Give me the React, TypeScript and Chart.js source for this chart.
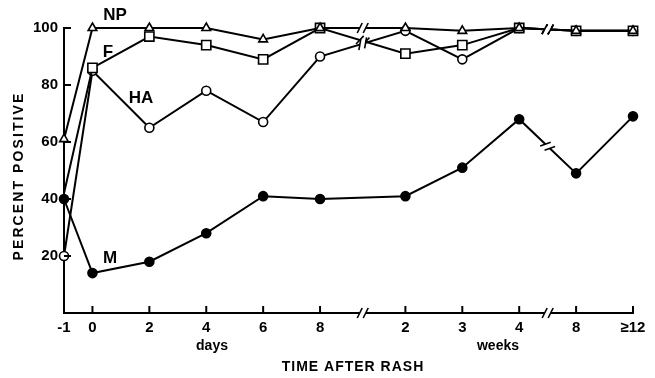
import React, { useEffect, useRef } from 'react';
import { Chart, registerables } from 'chart.js';

Chart.register(...registerables);

// ---- data ----
const xPositions = [-1, 0, 2, 4, 6, 8, 11, 13, 15, 17, 19];
const xTickLabels = ['-1', '0', '2', '4', '6', '8', '2', '3', '4', '8', '≥12'];
const yTickValues = [20, 40, 60, 80, 100];
const npValues = [61, 100, 100, 100, 96, 100, 100, 99, 100, 99, 99];
const fValues = [42, 86, 97, 94, 89, 100, 91, 94, 100, 99, 99];
const haValues = [20, 85, 65, 78, 67, 90, 99, 89, 100, 99, 99];
const mValues = [40, 14, 18, 28, 41, 40, 41, 51, 68, 49, 69];
const axisBreaks = [9.5, 16];
const seriesBreaks: Record<string, number[]> = {
  NP: [9.5, 16],
  F: [9.5, 16],
  HA: [9.5, 16],
  M: [16],
};

const FONT = '"Liberation Sans", Arial, sans-serif';

function toPoints(vals: number[]) {
  return vals.map((v, i) => ({ x: xPositions[i], y: v }));
}

function drawBreak(ctx: CanvasRenderingContext2D, x: number, y: number, ang: number) {
  ctx.save();
  ctx.translate(x, y);
  ctx.rotate(ang);
  ctx.fillStyle = '#fff';
  ctx.fillRect(-3, -2.5, 6, 5);
  ctx.strokeStyle = '#000';
  ctx.lineWidth = 1.6;
  [-3, 3].forEach((dx) => {
    ctx.beginPath();
    ctx.moveTo(dx - 2.5, 5);
    ctx.lineTo(dx + 2.5, -5);
    ctx.stroke();
  });
  ctx.restore();
}

const decorPlugin = {
  id: 'decor',
  afterDatasetsDraw(chart: any) {
    const ctx: CanvasRenderingContext2D = chart.ctx;
    const xs = chart.scales.x;
    const ys = chart.scales.y;
    const { left, bottom } = chart.chartArea;
    ctx.save();
    ctx.strokeStyle = '#000';
    ctx.lineWidth = 2;
    // inward ticks
    yTickValues.forEach((v) => {
      const py = ys.getPixelForValue(v);
      ctx.beginPath();
      ctx.moveTo(left, py);
      ctx.lineTo(left + 7, py);
      ctx.stroke();
    });
    xPositions.forEach((v) => {
      const px = xs.getPixelForValue(v);
      ctx.beginPath();
      ctx.moveTo(px, bottom);
      ctx.lineTo(px, bottom - 7);
      ctx.stroke();
    });
    // axis breaks
    axisBreaks.forEach((b) => drawBreak(ctx, xs.getPixelForValue(b), bottom, 0));
    // series breaks
    chart.data.datasets.forEach((ds: any, i: number) => {
      const meta = chart.getDatasetMeta(i);
      const brks = seriesBreaks[ds.label] || [];
      brks.forEach((b) => {
        const k = ds.data.findIndex((p: any) => p.x > b);
        if (k <= 0) return;
        const a = meta.data[k - 1];
        const c = meta.data[k];
        const px = xs.getPixelForValue(b);
        const t = (px - a.x) / (c.x - a.x);
        const py = a.y + t * (c.y - a.y);
        const ang = Math.atan2(c.y - a.y, c.x - a.x);
        drawBreak(ctx, px, py, ang);
      });
    });
    // texts
    ctx.fillStyle = '#000';
    ctx.textAlign = 'center';
    ctx.textBaseline = 'middle';
    ctx.font = `bold 17px ${FONT}`;
    ctx.fillText('NP', 115, 15);
    ctx.fillText('F', 108, 52);
    ctx.fillText('HA', 141, 98);
    ctx.fillText('M', 110, 258);
    ctx.font = `bold 14px ${FONT}`;
    (ctx as any).letterSpacing = '0px';
    ctx.fillText('days', 212, 346);
    ctx.fillText('weeks', 498, 346);
    (ctx as any).letterSpacing = '1px';
    ctx.fillText('TIME AFTER RASH', 353, 367);
    ctx.save();
    ctx.translate(19, 176);
    ctx.rotate(-Math.PI / 2);
    (ctx as any).letterSpacing = '2.1px';
    ctx.fillText('PERCENT POSITIVE', 0, 0);
    ctx.restore();
    ctx.restore();
  },
};

export default function App() {
  const ref = useRef<HTMLCanvasElement | null>(null);
  useEffect(() => {
    if (!ref.current) return;
    const common = {
      borderColor: '#000',
      borderWidth: 2,
      pointBorderColor: '#000',
      pointBorderWidth: 1.6,
      tension: 0,
      clip: false as any,
    };
    const chart = new Chart(ref.current, {
      type: 'line',
      data: {
        datasets: [
          { ...common, label: 'NP', data: toPoints(npValues), pointStyle: 'triangle', pointRadius: 5, pointBackgroundColor: '#fff' },
          { ...common, label: 'F', data: toPoints(fValues), pointStyle: 'rect', pointRadius: fValues.map((_, i) => (i === 0 ? 0 : 6.5)), pointBackgroundColor: '#fff' },
          { ...common, label: 'HA', data: toPoints(haValues), pointStyle: 'circle', pointRadius: 4.5, pointBackgroundColor: '#fff' },
          { ...common, label: 'M', data: toPoints(mValues), pointStyle: 'circle', pointRadius: 4.5, pointBackgroundColor: '#000' },
        ],
      },
      options: {
        animation: false,
        responsive: false,
        devicePixelRatio: 1,
        events: [],
        layout: { padding: { left: 0, top: 28, right: 22, bottom: 0 } },
        plugins: { legend: { display: false }, tooltip: { enabled: false }, title: { display: false } },
        scales: {
          x: {
            type: 'linear',
            min: -1,
            max: 19,
            grid: { display: false, drawTicks: false },
            border: { display: true, color: '#000', width: 2 },
            afterBuildTicks: (scale: any) => {
              scale.ticks = xPositions.map((v) => ({ value: v }));
            },
            afterFit: (scale: any) => {
              scale.height = 65;
            },
            ticks: {
              autoSkip: false,
              maxRotation: 0,
              padding: 6,
              color: '#000',
              font: { family: FONT, size: 15, weight: 'bold' },
              callback: (_v: any, i: number) => xTickLabels[i],
            },
          },
          y: {
            type: 'linear',
            min: 0,
            max: 100,
            grid: { display: false, drawTicks: false },
            border: { display: true, color: '#000', width: 2 },
            afterBuildTicks: (scale: any) => {
              scale.ticks = yTickValues.map((v) => ({ value: v }));
            },
            afterFit: (scale: any) => {
              scale.width = 64;
            },
            ticks: {
              padding: 6,
              color: '#000',
              font: { family: FONT, size: 15, weight: 'bold' },
              callback: (v: any) => String(v),
            },
          },
        },
      } as any,
      plugins: [decorPlugin],
    });
    return () => chart.destroy();
  }, []);
  return (
    <div style={{ position: 'absolute', left: 0, top: 0, width: 655, height: 378, background: '#fff' }}>
      <canvas ref={ref} width={655} height={378} style={{ width: 655, height: 378 }} />
    </div>
  );
}
